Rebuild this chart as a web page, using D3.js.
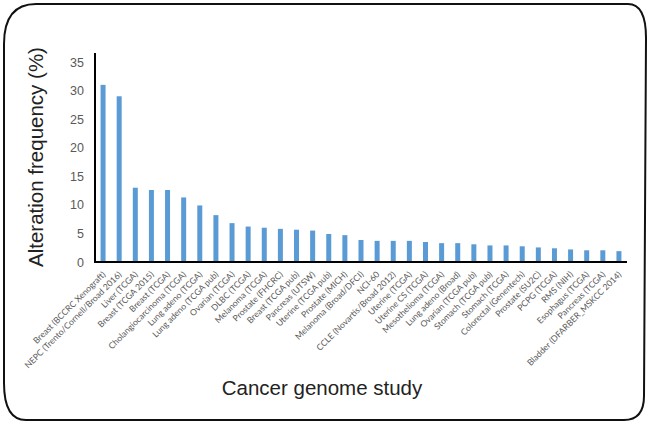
<!DOCTYPE html>
<html><head><meta charset="utf-8">
<script src="https://cdn.jsdelivr.net/npm/d3@7"></script>
<style>html,body{margin:0;padding:0;background:#fff;}</style>
</head><body>
<svg id="c" width="652" height="424"></svg>
<script>
const categories = ["Breast (BCCRC Xenograft)","NEPC (Trento/Cornell/Broad 2016)","Liver (TCGA)","Breast (TCGA 2015)","Breast (TCGA)","Cholangiocarcinoma (TCGA)","Lung adeno (TCGA)","Lung adeno (TCGA pub)","Ovarian (TCGA)","DLBC (TCGA)","Melanoma (TCGA)","Prostate (FHCRC)","Breast (TCGA pub)","Pancreas (UTSW)","Uterine (TCGA pub)","Prostate (MICH)","Melanoma (Broad/DFCI)","NCI-60","CCLE (Novartis/Broad 2012)","Uterine (TCGA)","Uterine CS (TCGA)","Mesothelioma (TCGA)","Lung adeno (Broad)","Ovarian (TCGA pub)","Stomach (TCGA pub)","Stomach (TCGA)","Colorectal (Genentech)","Prostate (SU2C)","PCPG (TCGA)","RMS (NIH)","Esophagus (TCGA)","Pancreas (TCGA)","Bladder (DFARBER_MSKCC 2014)"];
const values = [31.0,29.0,13.0,12.6,12.6,11.3,9.9,8.2,6.8,6.2,6.0,5.8,5.65,5.5,4.9,4.7,3.85,3.7,3.7,3.7,3.5,3.3,3.3,3.1,2.9,2.9,2.75,2.55,2.4,2.2,2.05,2.05,1.9];
const yTicks = [0,5,10,15,20,25,30,35];
const yTitle = "Alteration frequency (%)";
const xTitle = "Cancer genome study";

const svg = d3.select("#c");
// frame
svg.append("path")
  .attr("d","M36,4 L628,4 Q646,4 646,38 L644,396 Q644,420 624,420 L26,420 Q4,420 4,383 L4,44 Q4,4 36,4 Z")
  .attr("fill","none").attr("stroke","#111").attr("stroke-width",2);

const x = d3.scaleBand().domain(categories).range([95,627]).paddingInner(0.69).paddingOuter(0.345);
const y = d3.scaleLinear().domain([0,35]).range([262,62]);

svg.selectAll("rect.bar").data(values).join("rect").attr("class","bar")
  .attr("x",(d,i)=>x(categories[i])).attr("width",x.bandwidth())
  .attr("y",d=>y(d)).attr("height",d=>y(0)-y(d)).attr("fill","#5b9bd5");

// y axis
const yAxis = d3.axisLeft(y).tickValues(yTicks).tickSize(0).tickPadding(11);
const gy = svg.append("g").attr("transform","translate(95,0)").call(yAxis);
gy.select(".domain").remove();
gy.selectAll("text").attr("font-family","Liberation Sans, Arial, sans-serif").attr("font-size",12.5).attr("fill","#595959");
svg.append("line").attr("x1",95).attr("x2",95).attr("y1",53).attr("y2",y(0)+1).attr("stroke","#000").attr("stroke-width",2);

// x axis
const xAxis = d3.axisBottom(x).tickSize(0).tickPadding(0);
const gx = svg.append("g").attr("transform","translate(0,262)").call(xAxis);
gx.select(".domain").remove();
gx.selectAll(".tick text")
  .attr("font-family","Lato, Open Sans, sans-serif").attr("font-size",8.6).attr("fill","#595959")
  .attr("text-anchor","end").attr("dy",null).attr("y",0)
  .attr("transform","translate(3,13) rotate(-45)");
svg.append("line").attr("x1",94).attr("x2",627).attr("y1",y(0)).attr("y2",y(0)).attr("stroke","#000").attr("stroke-width",2);

// titles
svg.append("text").attr("transform","translate(43,157) rotate(-90)").attr("text-anchor","middle")
  .attr("font-family","Liberation Sans, Arial, sans-serif").attr("font-size",20.5).attr("fill","#222").text(yTitle);
svg.append("text").attr("x",322).attr("y",395).attr("text-anchor","middle")
  .attr("font-family","Liberation Sans, Arial, sans-serif").attr("font-size",20.5).attr("fill","#222").text(xTitle);
</script>
</body></html>
